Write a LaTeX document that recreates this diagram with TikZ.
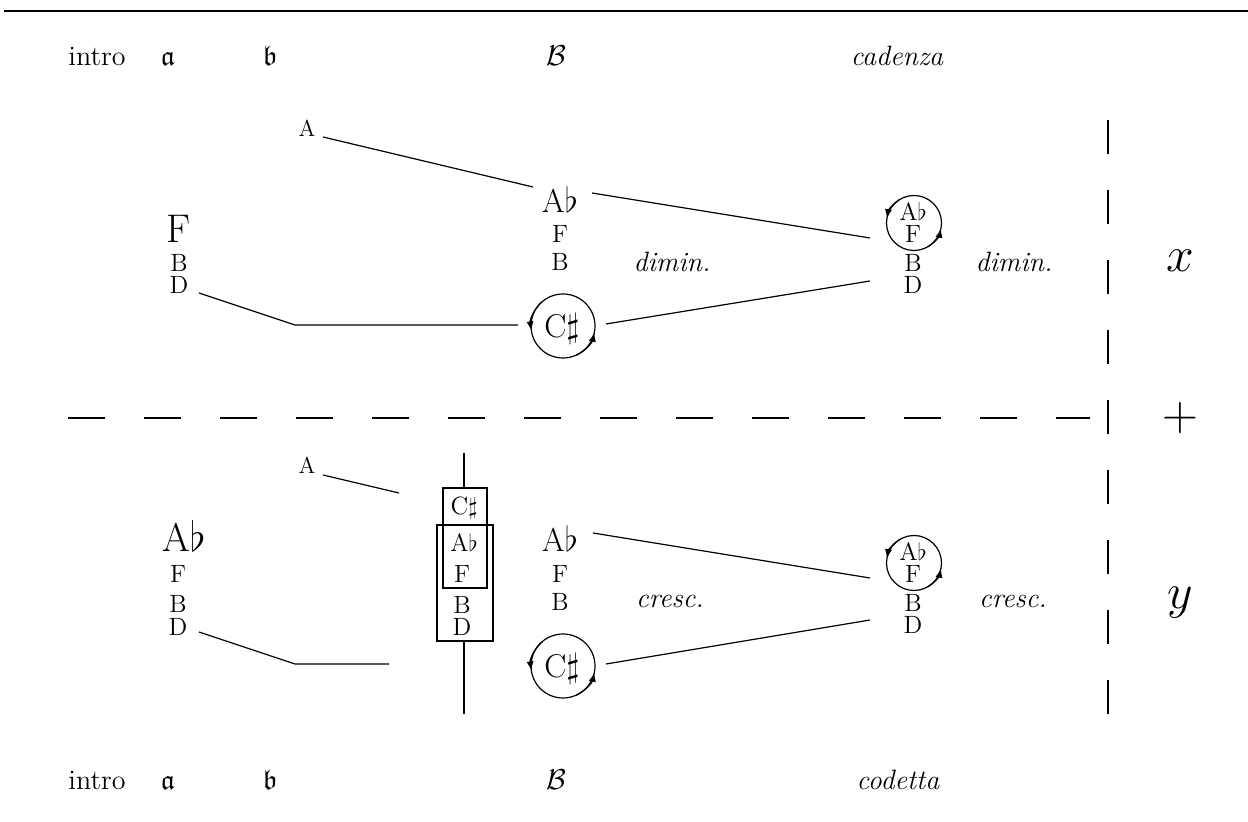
\documentclass[tikz,border=0pt]{standalone}
\usepackage{amssymb}
\usetikzlibrary{arrows.meta}
\begin{document}
\begin{tikzpicture}[x=0.5pt,y=-0.5pt,
  every node/.style={inner sep=0pt, outer sep=0pt},
  lab/.style={font=\fontsize{14}{16}\selectfont, anchor=base},
  albl/.style={font=\fontsize{11.5}{13}\selectfont, anchor=base},
  sm/.style={font=\fontsize{12.5}{14}\selectfont, anchor=base},
  md/.style={font=\fontsize{16.5}{19}\selectfont, anchor=base},
  bg/.style={font=\fontsize{20}{24}\selectfont, anchor=base},
  dyn/.style={font=\fontsize{14}{16}\selectfont\itshape},
  bigmath/.style={font=\fontsize{27}{31}\selectfont},
  ring/.style={draw, circle, line width=0.6pt, minimum size=#1},
  conn/.style={line width=0.6pt},
  tip/.style={line width=0.6pt, -{Latex[length=4.5pt,width=3.6pt]}},
  dashh/.style={line width=0.6pt, dash pattern=on 18.5pt off 19.5pt},
  dashv/.style={line width=0.6pt, dash pattern=on 17pt off 18pt}
]
\useasboundingbox (0,0) rectangle (1248,822);
\draw[line width=1pt] (4,11) -- (1248,11);

% header
\node[lab] (h1) at (97,66) {intro};
\node[lab] (h2) at (168,66) {$\mathfrak{a}$};
\node[lab] (h3) at (270,66) {$\mathfrak{b}$};
\node[lab] (h4) at (556,66) {$\mathcal{B}$};
\node[lab] (h5) at (897,66) {\itshape cadenza};
% footer
\node[lab] (f1) at (97,790) {intro};
\node[lab] (f2) at (168,790) {$\mathfrak{a}$};
\node[lab] (f3) at (270,790) {$\mathfrak{b}$};
\node[lab] (f4) at (556,790) {$\mathcal{B}$};
\node[lab] (f5) at (898,790) {\itshape codetta};

% ---------- upper block ----------
\node[albl] (uA) at (307,137) {A};
\node[bg] (uF) at (179,243) {F};
\node[sm] (uB) at (179,272) {B};
\node[sm] (uD) at (179,294) {D};

\node[md] (umAb) at (560,213) {A$\flat$};
\node[sm] (umF) at (560,243) {F};
\node[sm] (umB) at (560,271) {B};
\node[ring=32pt] (umC) at (563,326) {};
\node[md] (umCt) at (562,338) {C$\sharp$};
\draw[tip] (umC.130) arc[start angle=130, end angle=188, radius=16pt];
\draw[tip] (umC.-65) arc[start angle=-65, end angle=-12, radius=16pt];

\node[ring=27.5pt] (urC) at (914,223) {};
\node[sm] (urAb) at (913,221) {A$\flat$};
\node[sm] (urF) at (913,243) {F};
\node[sm] (urB) at (913,272) {B};
\node[sm] (urD) at (913,294) {D};
\draw[tip] (urC.120) arc[start angle=120, end angle=170, radius=13.75pt];
\draw[tip] (urC.-60) arc[start angle=-60, end angle=-12, radius=13.75pt];

\node[dyn] (ud1) at (672,262) {dimin.};
\node[dyn] (ud2) at (1014,262) {dimin.};
\node[bigmath] (ux) at (1180,261) {$x$};

\coordinate (ua1) at (323,137);
\coordinate (ua2) at (533,187);
\coordinate (ub1) at (592,193);
\coordinate (ub2) at (870,238);
\coordinate (ud1s) at (199,293);
\coordinate (ud1k) at (295,325);
\coordinate (ud1e) at (518,325);
\coordinate (uc1) at (606,324);
\coordinate (uc2) at (870,281);
\draw[conn] (ua1) -- (ua2);
\draw[conn] (ub1) -- (ub2);
\draw[conn] (ud1s) -- (ud1k) -- (ud1e);
\draw[conn] (uc1) -- (uc2);

% ---------- separators ----------
\coordinate (hs) at (68,418);
\coordinate (he) at (1090,418);
\draw[dashh] (hs) -- (he);
\coordinate (vs) at (1108,120);
\coordinate (ve) at (1108,715);
\draw[dashv] (vs) -- (ve);
\node[font=\fontsize{24}{28}\selectfont] (plus) at (1180,418) {$+$};

% ---------- lower block ----------
\node[albl] (lA) at (307,474) {A};
\node[bg] (lAb) at (184,552) {A$\flat$};
\node[sm] (lF) at (178,583) {F};
\node[sm] (lB) at (178,613) {B};
\node[sm] (lD) at (178,636) {D};

\coordinate (sb1) at (443,488);
\coordinate (sb2) at (487,588);
\coordinate (bb1) at (437,525);
\coordinate (bb2) at (493,641);
\draw[line width=0.6pt] (sb1) rectangle (sb2);
\draw[line width=0.6pt] (bb1) rectangle (bb2);
\coordinate (vt) at (464,453);
\coordinate (vtb) at (464,488);
\coordinate (vbb) at (464,641);
\coordinate (vb) at (464,714);
\draw[line width=0.6pt] (vt) -- (vtb);
\draw[line width=0.6pt] (vbb) -- (vb);
\node[sm] (bC) at (464,515) {C$\sharp$};
\node[sm] (bAb) at (464,552) {A$\flat$};
\node[sm] (bF) at (462,583) {F};
\node[sm] (bB) at (462,614) {B};
\node[sm] (bD) at (462,636) {D};

\node[md] (lmAb) at (560,552) {A$\flat$};
\node[sm] (lmF) at (560,583) {F};
\node[sm] (lmB) at (560,611) {B};
\node[ring=32pt] (lmC) at (563,666) {};
\node[md] (lmCt) at (562,678) {C$\sharp$};
\draw[tip] (lmC.130) arc[start angle=130, end angle=188, radius=16pt];
\draw[tip] (lmC.-65) arc[start angle=-65, end angle=-12, radius=16pt];

\node[ring=27.5pt] (lrC) at (914,563) {};
\node[sm] (lrAb) at (913,561) {A$\flat$};
\node[sm] (lrF) at (913,583) {F};
\node[sm] (lrB) at (913,612) {B};
\node[sm] (lrD) at (913,634) {D};
\draw[tip] (lrC.120) arc[start angle=120, end angle=170, radius=13.75pt];
\draw[tip] (lrC.-60) arc[start angle=-60, end angle=-12, radius=13.75pt];

\node[dyn] (ld1) at (670,601) {cresc.};
\node[dyn] (ld2) at (1013,601) {cresc.};
\node[bigmath] (ly) at (1180,603) {$y$};

\coordinate (la1) at (323,475);
\coordinate (la2) at (399,493);
\coordinate (lb1) at (593,533);
\coordinate (lb2) at (870,578);
\coordinate (ld1s) at (199,632);
\coordinate (ld1k) at (295,664);
\coordinate (ld1e) at (389,664);
\coordinate (lc1) at (606,664);
\coordinate (lc2) at (870,620);
\draw[conn] (la1) -- (la2);
\draw[conn] (lb1) -- (lb2);
\draw[conn] (ld1s) -- (ld1k) -- (ld1e);
\draw[conn] (lc1) -- (lc2);
\end{tikzpicture}
\end{document}
